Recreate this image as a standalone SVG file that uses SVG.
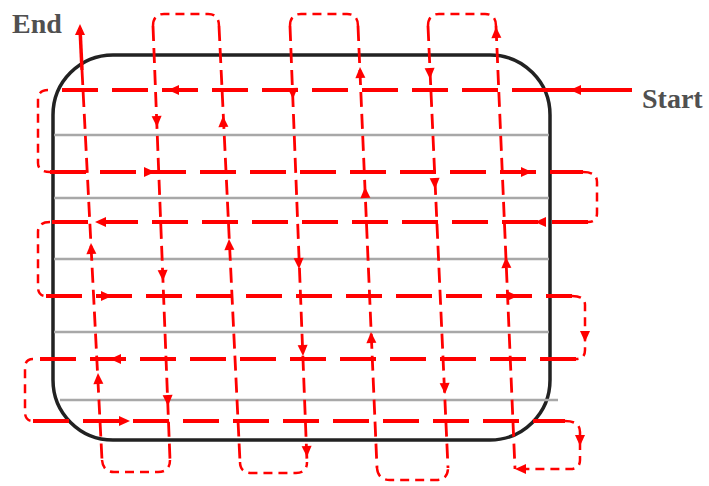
<svg xmlns="http://www.w3.org/2000/svg" xmlns:xlink="http://www.w3.org/1999/xlink" width="709" height="486" viewBox="0 0 709 486">
  <style>
    .box{fill:none;stroke:#222;stroke-width:3.5}
    .g{stroke:#a8a8a8;stroke-width:2.5}
    .h{stroke:#f00;stroke-width:3.8;fill:none;stroke-dasharray:36 14}
    .v{stroke:#f00;stroke-width:2.8;fill:none;stroke-dasharray:15 7}
    .lp{stroke:#f00;stroke-width:2.5;fill:none;stroke-dasharray:9 6}
    .s{stroke:#f00;stroke-width:4;fill:none}
    .ah{fill:#f00}
    text{font-family:"Liberation Serif","Times New Roman",serif;font-size:28px;font-weight:bold;fill:#505050}
  </style>
  <defs>
    <path id="ah" d="M0,0 L-11,-5 L-11,5 Z"/>
  </defs>
  <rect id="surface" class="box" x="53" y="55" width="497" height="385" rx="60" ry="60"/>
  <g id="grid">
    <line class="g" x1="54" y1="135" x2="549" y2="135"/>
    <line class="g" x1="54" y1="198" x2="549" y2="198"/>
    <line class="g" x1="54" y1="259" x2="549" y2="259"/>
    <line class="g" x1="54" y1="332" x2="549" y2="332"/>
    <line class="g" x1="60" y1="400" x2="558" y2="400"/>
  </g>
  <g id="connectors">
    <path class="s" d="M632,90 L548,90"/>
    <path class="h" d="M548,90 L48,90"/>
    <path class="h" d="M50,172 L583,172"/>
    <path class="h" d="M588,222 L50,222"/>
    <path class="h" d="M46,296 L572,296"/>
    <path class="h" d="M576,359 L33,359"/>
    <path class="h" d="M33,421 L565,421"/>
    <path class="lp" d="M48,90 Q38,90 38,100 L38,163 Q38,172 50,172"/>
    <path class="lp" d="M50,222 Q38,222 38,232 L38,287 Q38,296 46,296"/>
    <path class="lp" d="M33,359 Q25,359 25,368 L25,412 Q25,421 33,421"/>
    <path class="lp" d="M583,172 Q597,172 597,182 L597,213 Q597,222 588,222"/>
    <path class="lp" d="M572,296 Q585,296 585,305 L585,350 Q585,359 576,359"/>
    <path class="lp" d="M565,421 Q580,421 580,432 L580,460 Q580,469 570,469 L515,469"/>
    <path class="lp" d="M153,26 Q153,14 164,14 L208,14 Q219,14 219,26"/>
    <path class="lp" d="M290,26 Q290,14 301,14 L347,14 Q358,14 358,26"/>
    <path class="lp" d="M428,26 Q428,14 439,14 L485,14 Q496,14 496,26"/>
    <path class="lp" d="M102,460 Q103,472 114,472 L158,472 Q170,472 170,460"/>
    <path class="lp" d="M240,462 Q240,473 252,473 L296,473 Q307,473 307,462"/>
    <path class="lp" d="M377,468 Q378,480 390,480 L436,480 Q448,480 448,468"/>
    <path class="s" d="M80,28 L82,70" style="stroke-width:3.5"/>
    <path class="v" d="M82,70 L102,460"/>
    <path class="v" d="M153,26 L170,460"/>
    <path class="v" d="M219,26 L240,462"/>
    <path class="v" d="M290,26 L307,462"/>
    <path class="v" d="M358,26 L377,468"/>
    <path class="v" d="M428,26 L448,468"/>
    <path class="v" d="M496,26 L515,469"/>
  </g>
  <g id="arrowheads" class="ah">
    <use xlink:href="#ah" transform="translate(570,90) rotate(180)"/>
    <use xlink:href="#ah" transform="translate(168,90) rotate(180)"/>
    <use xlink:href="#ah" transform="translate(155,172)"/>
    <use xlink:href="#ah" transform="translate(532,172)"/>
    <use xlink:href="#ah" transform="translate(95,222) rotate(180)"/>
    <use xlink:href="#ah" transform="translate(535,222) rotate(180)"/>
    <use xlink:href="#ah" transform="translate(112,296)"/>
    <use xlink:href="#ah" transform="translate(518,296)"/>
    <use xlink:href="#ah" transform="translate(110,359) rotate(180)"/>
    <use xlink:href="#ah" transform="translate(130,421)"/>
    <use xlink:href="#ah" transform="translate(515,469) rotate(180)"/>
    <use xlink:href="#ah" transform="translate(580,446) rotate(90)"/>
    <use xlink:href="#ah" transform="translate(585,342) rotate(90)"/>
    <use xlink:href="#ah" transform="translate(80,24) rotate(-90)"/>
    <use xlink:href="#ah" transform="translate(91,243) rotate(-92)"/>
    <use xlink:href="#ah" transform="translate(98,373) rotate(-92)"/>
    <use xlink:href="#ah" transform="translate(157,127) rotate(88)"/>
    <use xlink:href="#ah" transform="translate(163,281) rotate(88)"/>
    <use xlink:href="#ah" transform="translate(168,406) rotate(88)"/>
    <use xlink:href="#ah" transform="translate(223,116) rotate(-92)"/>
    <use xlink:href="#ah" transform="translate(229,239) rotate(-92)"/>
    <use xlink:href="#ah" transform="translate(293,99) rotate(88)"/>
    <use xlink:href="#ah" transform="translate(299,269) rotate(88)"/>
    <use xlink:href="#ah" transform="translate(303,356) rotate(88)"/>
    <use xlink:href="#ah" transform="translate(307,457) rotate(88)"/>
    <use xlink:href="#ah" transform="translate(360,67) rotate(-92)"/>
    <use xlink:href="#ah" transform="translate(365,187) rotate(-92)"/>
    <use xlink:href="#ah" transform="translate(371,332) rotate(-92)"/>
    <use xlink:href="#ah" transform="translate(430,79) rotate(88)"/>
    <use xlink:href="#ah" transform="translate(435,189) rotate(88)"/>
    <use xlink:href="#ah" transform="translate(445,394) rotate(88)"/>
    <use xlink:href="#ah" transform="translate(496,27) rotate(-92)"/>
    <use xlink:href="#ah" transform="translate(506,257) rotate(-92)"/>
  </g>
  <g id="label-end"><text x="12" y="33">End</text></g>
  <g id="label-start"><text x="642" y="108">Start</text></g>
</svg>
